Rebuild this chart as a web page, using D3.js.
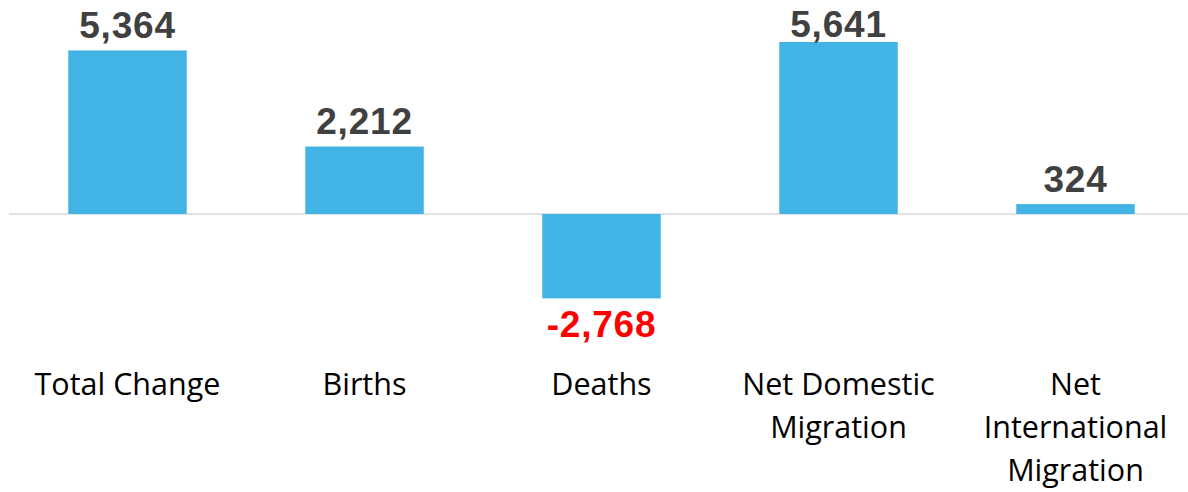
<!DOCTYPE html>
<html><head><meta charset="utf-8">
<script src="https://cdn.jsdelivr.net/npm/d3@7"></script>
<style>body{margin:0;background:#fff}svg{display:block}</style>
</head><body>
<svg id="chart" width="1188" height="492"></svg>
<script>
const categories = ["Total Change", "Births", "Deaths", "Net Domestic Migration", "Net International Migration"];
const categoryLines = [["Total Change"], ["Births"], ["Deaths"], ["Net Domestic", "Migration"], ["Net", "International", "Migration"]];
const values = [5364, 2212, -2768, 5641, 324];

const svg = d3.select("#chart");
const x = d3.scaleBand().domain(categories).range([9, 1194]).paddingInner(0.5).paddingOuter(0.25);
const y = d3.scaleLinear().domain([0, 5641]).range([214, 42]);

svg.append("line").attr("x1", 9).attr("x2", 1188).attr("y1", y(0)).attr("y2", y(0))
  .attr("stroke", "#d9d9d9").attr("stroke-width", 1.5);

svg.selectAll("rect.bar").data(values).join("rect").attr("class", "bar")
  .attr("x", (d, i) => x(categories[i]))
  .attr("width", x.bandwidth())
  .attr("y", d => Math.min(y(d), y(0)))
  .attr("height", d => Math.abs(y(d) - y(0)))
  .attr("fill", "#41b4e5");

const fmt = v => d3.format(",")(v).replace("\u2212", "-");
svg.selectAll("text.val").data(values).join("text").attr("class", "val")
  .attr("x", (d, i) => x(categories[i]) + x.bandwidth() / 2)
  .attr("y", d => d >= 0 ? Math.max(37, y(d) - 12.5) : y(d) + 39)
  .attr("text-anchor", "middle")
  .attr("font-family", "Liberation Sans, Arial, sans-serif")
  .attr("font-weight", "bold")
  .attr("font-size", 37)
  .attr("letter-spacing", 0.8)
  .attr("fill", d => d >= 0 ? "#404040" : "#ff0000")
  .text(d => fmt(d));

const cat = svg.selectAll("text.cat").data(categoryLines).join("text").attr("class", "cat")
  .attr("text-anchor", "middle")
  .attr("font-family", "Open Sans, Noto Sans, sans-serif")
  .attr("font-size", 30.5)
  .attr("fill", "#000");
cat.each(function(lines, i) {
  const t = d3.select(this);
  lines.forEach((l, j) => {
    t.append("tspan").attr("x", x(categories[i]) + x.bandwidth() / 2).attr("y", 395 + j * 43).text(l);
  });
});
</script>
</body></html>
